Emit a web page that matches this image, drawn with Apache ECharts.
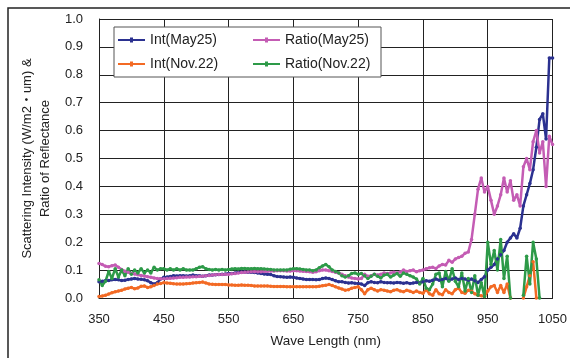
<!DOCTYPE html>
<html>
<head>
<meta charset="utf-8">
<script src="https://cdn.jsdelivr.net/npm/echarts@6/dist/echarts.min.js"></script>
<style>
  html, body { margin: 0; padding: 0; background: #fff; }
  #chart { width: 570px; height: 358px; }
</style>
</head>
<body>
<div id="chart"></div>
<script>
// Wavelength grid (nm), 5 nm steps from 350 to 1050
const wavelengths = Array.from({ length: 141 }, (_, i) => 350 + 5 * i);

// Scattering intensity, May 25
const intMay25 = [
  .058,.060,.062,.063,.065,.066,.065,.063,.064,.066,
  .068,.070,.068,.067,.065,.062,.055,.050,.055,.068,
  .074,.075,.077,.080,.079,.080,.080,.079,.080,.082,
  .080,.080,.078,.080,.082,.082,.083,.084,.085,.086,
  .088,.088,.090,.092,.093,.093,.092,.092,.091,.090,
  .088,.086,.085,.084,.080,.077,.076,.075,.074,.075,
  .074,.072,.070,.068,.066,.066,.066,.065,.066,.070,
  .072,.070,.066,.062,.058,.058,.056,.054,.055,.053,
  .052,.050,.045,.055,.058,.056,.055,.058,.056,.055,
  .055,.054,.056,.055,.053,.055,.052,.054,.056,.054,
  .058,.062,.060,.064,.068,.064,.066,.070,.064,.068,
  .072,.066,.070,.068,.064,.068,.062,.056,.066,.076,
  .100,.110,.120,.140,.155,.170,.200,.215,.230,.215,
  .250,.330,.370,.410,.460,.540,.640,.660,.570,.860,
  .860
];

// Ratio of reflectance, May 25
const ratioMay25 = [
  .124,.120,.114,.112,.116,.118,.110,.102,.096,.092,
  .088,.086,.083,.081,.079,.076,.074,.072,.070,.069,
  .069,.070,.071,.072,.073,.074,.074,.075,.075,.076,
  .076,.078,.078,.080,.081,.082,.083,.084,.084,.085,
  .085,.087,.088,.090,.091,.092,.093,.094,.094,.094,
  .094,.095,.096,.097,.097,.098,.098,.098,.097,.097,
  .098,.098,.097,.096,.095,.094,.092,.094,.098,.100,
  .100,.098,.095,.092,.090,.085,.080,.075,.072,.070,
  .068,.070,.085,.078,.080,.085,.082,.085,.090,.088,
  .090,.092,.090,.093,.100,.095,.098,.100,.094,.098,
  .100,.105,.108,.110,.106,.115,.120,.118,.135,.128,
  .140,.145,.150,.160,.165,.210,.300,.390,.430,.380,
  .400,.350,.300,.330,.370,.430,.380,.420,.350,.370,
  .330,.470,.500,.460,.560,.600,.520,.560,.400,.580,
  .550
];

// Scattering intensity, Nov. 22
const intNov22 = [
  .005,.007,.010,.014,.019,.022,.025,.028,.032,.035,
  .038,.033,.036,.042,.043,.038,.040,.045,.050,.052,
  .055,.054,.053,.051,.050,.050,.050,.051,.052,.054,
  .055,.056,.057,.054,.050,.049,.048,.048,.048,.048,
  .047,.047,.046,.046,.047,.046,.046,.045,.043,.043,
  .043,.043,.043,.042,.041,.041,.041,.041,.040,.040,
  .040,.040,.040,.040,.040,.040,.040,.040,.042,.044,
  .046,.048,.045,.040,.036,.032,.028,.030,.035,.038,
  .040,.030,.015,.030,.035,.030,.025,.030,.028,.025,
  .022,.028,.030,.025,.022,.028,.024,.020,.025,.020,
  .017,.030,.015,.010,.030,.015,.012,.030,.020,.015,
  .030,.035,.020,.017,.028,.024,.015,.010,.008,.005,
  .025,.040,.045,.020,.045,.020,.050,.000,null,null,
  null,.000,.040,.080,.130,.000,null,null,null,null,
  null
];

// Ratio of reflectance, Nov. 22
const ratioNov22 = [
  .065,.045,.060,.095,.070,.105,.075,.100,.080,.105,
  .085,.100,.090,.105,.090,.100,.090,.110,.100,.105,
  .105,.100,.105,.100,.105,.100,.105,.100,.100,.100,
  .105,.110,.112,.105,.102,.100,.102,.100,.102,.100,
  .102,.104,.105,.104,.106,.106,.105,.105,.106,.105,
  .105,.104,.103,.102,.100,.100,.100,.100,.100,.103,
  .105,.105,.104,.102,.100,.100,.098,.100,.108,.115,
  .120,.112,.100,.095,.090,.080,.075,.080,.088,.090,
  .085,.088,.080,.070,.078,.085,.078,.072,.082,.085,
  .075,.082,.088,.078,.090,.085,.080,.075,.068,.050,
  .070,.035,.030,.050,.085,.090,.040,.095,.060,.105,
  .060,.040,.090,.025,.070,.020,.080,.010,.055,.005,
  .200,.120,.170,.100,.210,.070,.150,.000,null,null,
  null,.010,.150,.050,.200,.140,.000,null,null,null,
  null
];

const seriesNames = ['Int(May25)', 'Ratio(May25)', 'Int(Nov.22)', 'Ratio(Nov.22)'];
const seriesValues = [intMay25, ratioMay25, intNov22, ratioNov22];
const seriesColors = ['#2b3190', '#c45cb4', '#f36a24', '#2d9a48'];

const yTicks = { min: 0, max: 1, interval: 0.1 };
const xTicks = { min: 350, max: 1050, interval: 100 };

const font = "'Liberation Sans', Arial, 'Noto Sans CJK JP', sans-serif";
// legend swatch: a short line with a small dot in the middle
const swatch = 'path://M0,1.5H27V3.5H0Z M12,0H15V5H12Z';

const chart = echarts.init(document.getElementById('chart'), null, { renderer: 'canvas' });

chart.setOption({
  animation: false,
  backgroundColor: '#fff',
  textStyle: { fontFamily: font },
  graphic: [{
    type: 'rect',
    shape: { x: 8, y: 8, width: 700, height: 500 },
    style: { fill: 'none', stroke: '#222', lineWidth: 1.5 },
    silent: true
  }],
  grid: { left: 99, right: 16, top: 19, bottom: 60, containLabel: false },
  legend: {
    left: 114, top: 27,
    width: 262,
    orient: 'horizontal',
    padding: [6, 3, 6, 4],
    itemGap: 10,
    itemWidth: 27,
    itemHeight: 5,
    backgroundColor: '#fff',
    borderColor: '#555',
    borderWidth: 1,
    borderRadius: 0,
    textStyle: { fontSize: 14, color: '#222', width: 93, lineHeight: 14, fontFamily: font },
    data: seriesNames.map((n) => ({ name: n, icon: swatch }))
  },
  xAxis: {
    type: 'value',
    min: xTicks.min, max: xTicks.max, interval: xTicks.interval,
    name: 'Wave Length (nm)',
    nameLocation: 'middle',
    nameGap: 37,
    nameTextStyle: { fontSize: 13.5, color: '#222' },
    axisLine: { show: true, onZero: false, lineStyle: { color: '#222', width: 1 } },
    axisTick: { show: false },
    axisLabel: { fontSize: 13, color: '#222', margin: 15, formatter: (v) => String(v) },
    splitLine: { show: true, lineStyle: { color: '#222', width: 1 } }
  },
  yAxis: {
    type: 'value',
    min: yTicks.min, max: yTicks.max, interval: yTicks.interval,
    name: 'Scattering Intensity (W/m2\u30FBum) &\nRatio of Reflectance',
    nameLocation: 'middle',
    nameGap: 40,
    nameTextStyle: { fontSize: 13, color: '#222', lineHeight: 18 },
    axisLine: { show: true, lineStyle: { color: '#222', width: 1 } },
    axisTick: { show: false },
    axisLabel: { fontSize: 13, color: '#222', margin: 16, formatter: (v) => v.toFixed(1) },
    splitLine: { show: true, lineStyle: { color: '#222', width: 1 } }
  },
  series: seriesNames.map((name, k) => ({
    name,
    type: 'line',
    data: wavelengths.map((w, i) => [w, seriesValues[k][i]]),
    connectNulls: false,
    showSymbol: true,
    symbol: 'circle',
    symbolSize: 3.5,
    color: seriesColors[k],
    lineStyle: { width: 2.5, color: seriesColors[k] },
    itemStyle: { color: seriesColors[k] },
    emphasis: { disabled: true },
    clip: true
  }))
});
</script>
</body>
</html>
